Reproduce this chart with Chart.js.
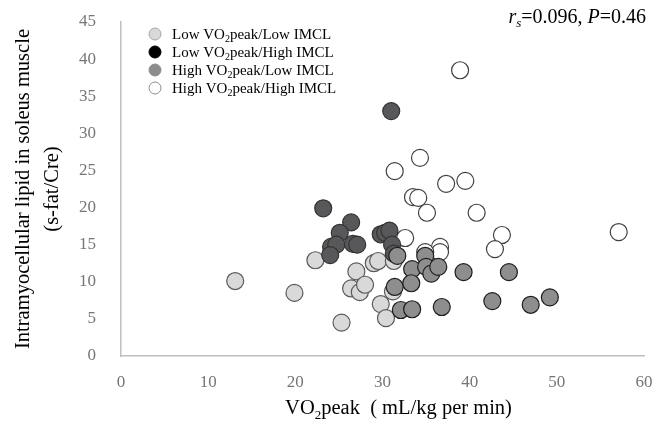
<!DOCTYPE html>
<html>
<head>
<meta charset="UTF-8">
<title>VO2peak vs IMCL</title>
<script src="https://cdn.jsdelivr.net/npm/chart.js@4.4.1/dist/chart.umd.min.js"></script>
<style>
  html, body { margin: 0; padding: 0; background: #fff; }
</style>
</head>
<body>
<canvas id="myChart" width="655" height="426"></canvas>
<script>
// groups
const lowLowX  = [13.1, 19.9, 22.3, 25.3, 27.0, 26.4, 27.4, 28.0, 29.0, 29.5, 29.8, 30.4, 31.2, 31.3];
const lowLowY  = [10.1, 8.5, 12.9, 4.5, 11.4, 9.1, 8.6, 9.6, 12.5, 12.8, 7.0, 5.1, 8.7, 12.8];

const lowHighX = [23.2, 26.4, 25.1, 24.1, 24.7, 24.0, 26.6, 27.1, 29.8, 30.3, 30.8, 31.1, 31.3, 31.0];
const lowHighY = [19.9, 18.0, 16.6, 14.7, 15.0, 13.6, 15.1, 15.0, 16.4, 16.6, 16.9, 15.0, 13.8, 33.0];

const highLowX = [31.7, 34.9, 33.4, 35.0, 35.6, 36.4, 33.3, 31.4, 32.1, 33.4, 36.8, 39.3, 44.5, 42.6, 47.0, 49.2];
const highLowY = [13.5, 13.5, 11.7, 12.0, 11.1, 12.0, 9.8, 9.3, 6.2, 6.3, 6.6, 11.3, 11.3, 7.4, 6.9, 7.9];

const highHighX = [38.9, 34.3, 31.4, 37.3, 39.5, 33.5, 34.1, 35.1, 40.8, 43.7, 42.9, 32.6, 36.6, 36.6, 34.9, 57.1];
const highHighY = [38.5, 26.7, 24.9, 23.2, 23.6, 21.4, 21.3, 19.3, 19.3, 16.3, 14.4, 15.9, 14.7, 14.0, 14.0, 16.7];

const groupLabels = ['Low VO2peak/Low IMCL', 'Low VO2peak/High IMCL', 'High VO2peak/Low IMCL', 'High VO2peak/High IMCL'];
const xTitle = 'VO2peak  ( mL/kg per min)';
const yTitle = ['Intramyocellular lipid in soleus muscle', '(s-fat/Cre)'];

const serif = '"Liberation Serif", "Times New Roman", serif';
const tickColor = '#767676';

function pts(xs, ys) {
    return xs.map((x, i) => ({ x: x, y: ys[i] }));
}

// split "VO2" so the 2 can be drawn as subscript
function rich(str) {
    const parts = [];
    str.split('VO2').forEach((s, i) => {
        if (i > 0) { parts.push({ t: 'VO' }); parts.push({ t: '2', sub: true }); }
        if (s) parts.push({ t: s });
    });
    return parts;
}

function drawParts(ctx, parts, x, y, size, align) {
    const fontOf = p => (p.it ? 'italic ' : '') + (p.sub ? Math.round(size * 0.65) : size) + 'px ' + serif;
    const widths = parts.map(p => { ctx.font = fontOf(p); return ctx.measureText(p.t).width; });
    const total = widths.reduce((a, b) => a + b, 0);
    let cx = align === 'right' ? x - total : align === 'center' ? x - total / 2 : x;
    parts.forEach((p, i) => {
        ctx.font = fontOf(p);
        ctx.fillText(p.t, cx, p.sub ? y + size * 0.22 : y);
        cx += widths[i];
    });
}

const legendMarks = [
    { fill: '#d9d9d9', stroke: '#a6a6a6' },
    { fill: '#000000', stroke: '#000000' },
    { fill: '#8c8c8c', stroke: '#8c8c8c' },
    { fill: '#ffffff', stroke: '#8c8c8c' }
];

const extras = {
    id: 'extras',
    afterDraw(chart) {
        const ctx = chart.ctx;
        ctx.save();
        ctx.textAlign = 'left';
        ctx.textBaseline = 'alphabetic';
        ctx.fillStyle = '#000';

        // legend
        groupLabels.forEach((lab, i) => {
            const cy = 34 + i * 18;
            ctx.beginPath();
            ctx.arc(155, cy, 6, 0, Math.PI * 2);
            ctx.fillStyle = legendMarks[i].fill;
            ctx.fill();
            ctx.lineWidth = 1;
            ctx.strokeStyle = legendMarks[i].stroke;
            ctx.stroke();
            ctx.fillStyle = '#000';
            drawParts(ctx, rich(lab), 172, cy + 5, 15, 'left');
        });

        // statistic
        drawParts(ctx, [
            { t: 'r', it: true }, { t: 's', it: true, sub: true },
            { t: '=0.096, ' }, { t: 'P', it: true }, { t: '=0.46' }
        ], 646, 23, 20, 'right');

        // x axis title (sits a little right of the plot centre in the original)
        const a = chart.chartArea;
        drawParts(ctx, rich(xTitle), (a.left + a.right) / 2 + 16, 414, 20.5, 'center');
        ctx.restore();
    }
};

const ctx = document.getElementById('myChart').getContext('2d');
const chart = new Chart(ctx, {
    type: 'scatter',
    data: {
        datasets: [{
            label: groupLabels[0],
            data: pts(lowLowX, lowLowY),
            backgroundColor: '#d9d9d9',
            borderColor: '#595959',
            order: 3
        }, {
            label: groupLabels[1],
            data: pts(lowHighX, lowHighY),
            backgroundColor: '#58585a',
            borderColor: '#333333',
            order: 1
        }, {
            label: groupLabels[2],
            data: pts(highLowX, highLowY),
            backgroundColor: '#8e8e8e',
            borderColor: '#1e1e1e',
            order: 0
        }, {
            label: groupLabels[3],
            data: pts(highHighX, highHighY),
            backgroundColor: '#ffffff',
            borderColor: '#404040',
            order: 2
        }]
    },
    options: {
        responsive: false,
        animation: false,
        elements: { point: { radius: 8.5, hoverRadius: 8.5, borderWidth: 1.2 } },
        layout: { padding: { top: 22, right: 11, left: 0, bottom: 0 } },
        plugins: { legend: { display: false }, tooltip: { enabled: false } },
        scales: {
            x: {
                type: 'linear',
                min: 0, max: 60,
                ticks: { stepSize: 10, color: tickColor, font: { family: serif, size: 17 }, padding: 8 },
                grid: { display: false },
                border: { display: true, color: '#bfbfbf', width: 1.5 },
                afterFit: s => { s.height = 70; s.paddingLeft = 0; s.paddingRight = 0; }
            },
            y: {
                min: 0, max: 45,
                ticks: { stepSize: 5, color: tickColor, font: { family: serif, size: 17 }, padding: 17 },
                grid: { display: false },
                border: { display: true, color: '#bfbfbf', width: 1.5 },
                title: {
                    display: true, text: yTitle, color: '#000',
                    font: { family: serif, size: 20.5, lineHeight: 1.37 },
                    padding: { top: 10, bottom: 0 }
                },
                afterFit: s => { s.width = 121; s.paddingTop = 0; s.paddingBottom = 0; }
            }
        }
    },
    plugins: [extras]
});
</script>
</body>
</html>
